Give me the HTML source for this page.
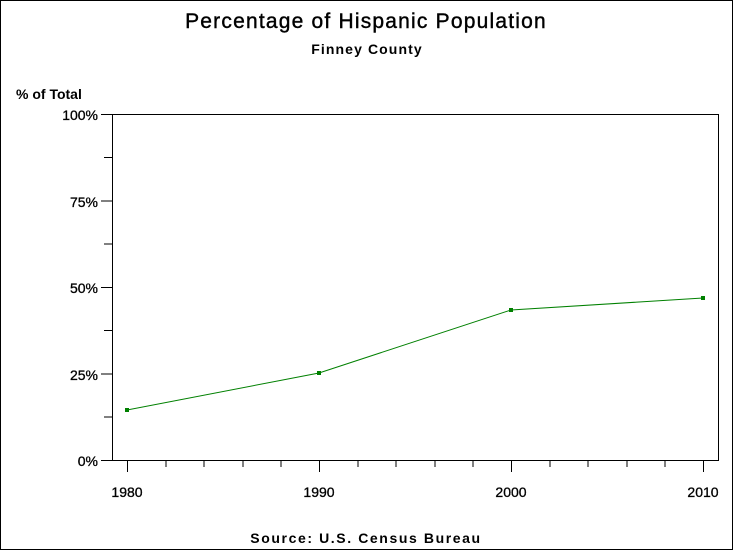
<!DOCTYPE html>
<html><head><style>
html,body{margin:0;padding:0;background:#fff}
svg{display:block}
text{font-family:"Liberation Sans",sans-serif;fill:#000}
</style></head><body>
<svg width="733" height="550" xmlns="http://www.w3.org/2000/svg">
<rect x="0.5" y="0.5" width="732" height="549" fill="#fff" stroke="#000"/>
<text x="366" y="28" font-size="21" text-anchor="middle" letter-spacing="1.2" stroke="#000" stroke-width="0.4">Percentage of Hispanic Population</text>
<text x="367" y="54" font-size="14" font-weight="bold" text-anchor="middle" letter-spacing="1.1">Finney County</text>
<text x="16" y="99" font-size="14" font-weight="bold">% of Total</text>
<text x="366" y="543" font-size="14" font-weight="bold" text-anchor="middle" letter-spacing="1.6">Source: U.S. Census Bureau</text>
<rect x="112.5" y="114.5" width="606" height="346" fill="none" stroke="#000"/>
<g stroke="#000" stroke-width="1">
<line x1="101" y1="114.5" x2="112" y2="114.5"/>
<line x1="101" y1="201" x2="112" y2="201"/>
<line x1="101" y1="287.5" x2="112" y2="287.5"/>
<line x1="101" y1="374" x2="112" y2="374"/>
<line x1="101" y1="460.5" x2="112" y2="460.5"/>
<line x1="104" y1="157.5" x2="112" y2="157.5"/>
<line x1="104" y1="244" x2="112" y2="244"/>
<line x1="104" y1="330.5" x2="112" y2="330.5"/>
<line x1="104" y1="417" x2="112" y2="417"/>
<line x1="127.5" y1="460" x2="127.5" y2="472"/>
<line x1="319.5" y1="460" x2="319.5" y2="472"/>
<line x1="511.5" y1="460" x2="511.5" y2="472"/>
<line x1="703.5" y1="460" x2="703.5" y2="472"/>
<line x1="166" y1="460" x2="166" y2="467"/><line x1="204" y1="460" x2="204" y2="467"/><line x1="243" y1="460" x2="243" y2="467"/><line x1="281" y1="460" x2="281" y2="467"/>
<line x1="358" y1="460" x2="358" y2="467"/><line x1="396" y1="460" x2="396" y2="467"/><line x1="435" y1="460" x2="435" y2="467"/><line x1="473" y1="460" x2="473" y2="467"/>
<line x1="550" y1="460" x2="550" y2="467"/><line x1="588" y1="460" x2="588" y2="467"/><line x1="627" y1="460" x2="627" y2="467"/><line x1="665" y1="460" x2="665" y2="467"/>
</g>
<g font-size="14" text-anchor="end" stroke="#000" stroke-width="0.3">
<text x="98" y="120">100%</text>
<text x="98" y="207">75%</text>
<text x="98" y="293">50%</text>
<text x="98" y="380">25%</text>
<text x="98" y="466">0%</text>
</g>
<g font-size="14" text-anchor="middle" stroke="#000" stroke-width="0.3">
<text x="127" y="497">1980</text>
<text x="319" y="497">1990</text>
<text x="511" y="497">2000</text>
<text x="703" y="497">2010</text>
</g>
<polyline points="127,410 319,373 511,310 703,298" fill="none" stroke="#008000" stroke-width="1"/>
<g fill="#008000">
<rect x="125" y="408" width="4" height="4"/>
<rect x="317" y="371" width="4" height="4"/>
<rect x="509" y="308" width="4" height="4"/>
<rect x="701" y="296" width="4" height="4"/>
</g>
</svg>
</body></html>
